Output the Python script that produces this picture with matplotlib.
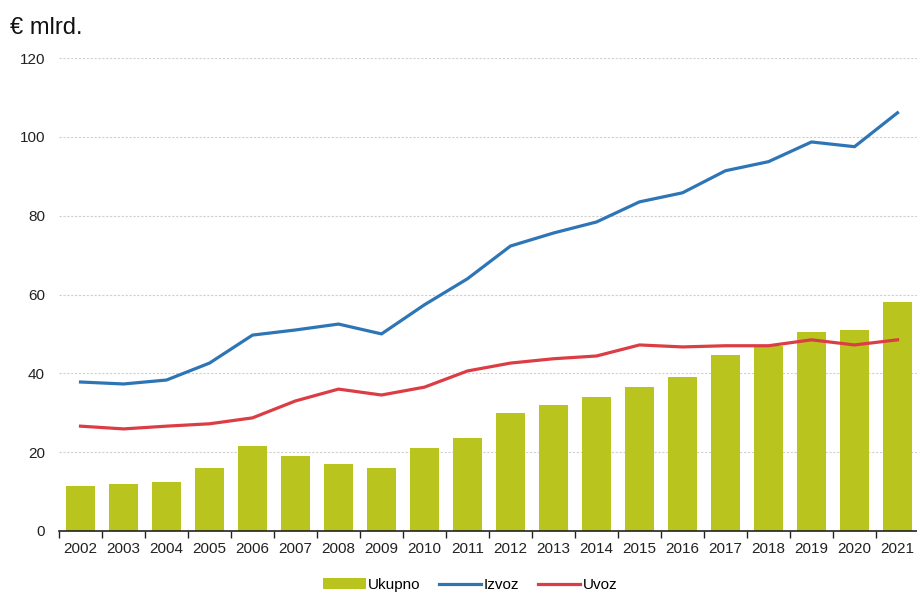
import matplotlib.pyplot as plt
import numpy as np

plt.rcParams['font.family'] = ['Liberation Sans', 'DejaVu Sans']

years = [str(y) for y in range(2002, 2022)]
ukupno = [11.4, 11.9, 12.4, 16.0, 21.6, 19.0, 17.0, 16.0, 21.1, 23.6,
          30.0, 32.0, 34.0, 36.5, 39.1, 44.7, 47.0, 50.4, 51.0, 58.0]
izvoz = [37.8, 37.3, 38.3, 42.6, 49.7, 51.0, 52.5, 50.0, 57.4, 64.0,
         72.3, 75.6, 78.4, 83.5, 85.8, 91.4, 93.7, 98.7, 97.5, 106.1]
uvoz = [26.6, 25.9, 26.6, 27.2, 28.7, 33.0, 36.0, 34.5, 36.5, 40.6,
        42.6, 43.7, 44.4, 47.2, 46.7, 47.0, 47.0, 48.5, 47.2, 48.5]

green = "#b9c41f"
blue = "#2e75b6"
red = "#dc3d45"

fig = plt.figure(figsize=(9.17, 5.94), dpi=100)
ax = fig.add_axes([59/917, 63/594, 860/917, 473/594])

x = np.arange(len(years))
b = ax.bar(x, ukupno, width=0.66, color=green, label="Ukupno", zorder=2)
l1, = ax.plot(x, izvoz, color=blue, lw=2.3, label="Izvoz", zorder=3)
l2, = ax.plot(x, uvoz, color=red, lw=2.3, label="Uvoz", zorder=3)

ax.set_xlim(-0.5, len(years) - 0.5)
ax.set_ylim(0, 120)
ax.set_yticks(range(0, 121, 20))
ax.yaxis.grid(True, linestyle=(0, (2, 1.5)), color="#cfcfcf", lw=0.8, zorder=0)

ax.set_xticks(x)
ax.set_xticklabels(years)
ax.set_xticks(np.arange(-0.5, len(years), 1), minor=True)
ax.tick_params(axis="x", which="major", length=0, pad=8, labelsize=11, labelcolor="#222222")
ax.tick_params(axis="x", which="minor", length=5, color="#222222", width=1)
ax.tick_params(axis="y", length=0, pad=10, labelsize=11, labelcolor="#222222")

for s in ["top", "right", "left"]:
    ax.spines[s].set_visible(False)
ax.spines["bottom"].set_color("#222222")
ax.spines["bottom"].set_linewidth(1.2)

fig.text(10/917, 1 - 28/594, "€ mlrd.", fontsize=17, va="center", ha="left", color="#111111")

fig.legend([b, l1, l2], ["Ukupno", "Izvoz", "Uvoz"], loc="center",
           bbox_to_anchor=(470/917, 1 - 585/594), ncol=3, frameon=False,
           fontsize=11, handlelength=2.8, handletextpad=0.15, columnspacing=1.2)

fig.savefig("out.png", dpi=100)
